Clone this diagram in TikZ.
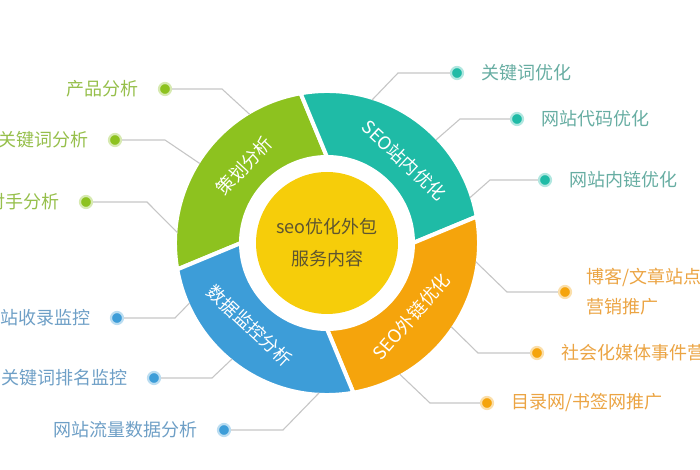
\documentclass[tikz,border=0pt]{standalone}
\usepackage{fontspec}
\setmainfont{Noto Sans CJK SC}
\usepackage{xcolor}
\definecolor{verdeSEO}{HTML}{8DC21F}
\definecolor{tealSEO}{HTML}{1FBBA6}
\definecolor{naranjaSEO}{HTML}{F5A40C}
\definecolor{azulSEO}{HTML}{3D9DD8}
\definecolor{amarilloSEO}{HTML}{F6CD0A}
\definecolor{txtCentro}{HTML}{5E5530}
\definecolor{txtVerde}{HTML}{96BF4B}
\definecolor{txtTeal}{HTML}{67ADA2}
\definecolor{txtAzul}{HTML}{6E9FC6}
\definecolor{txtNaranja}{HTML}{EBA443}
\usetikzlibrary{positioning,calc}

\begin{document}
\begin{tikzpicture}[x=1pt,y=1pt,
 seg/.style={draw=white,line width=4pt,line join=round},
 segtext/.style={text=white,inner sep=0,font=\fontsize{18}{20}\selectfont},
 leafdot/.style={circle,fill=#1,draw=#1!35,line width=2.2pt,minimum size=12pt,inner sep=0},
 item/.style={inner sep=0,align=left,font=\fontsize{18}{30}\selectfont},
 lead/.style={draw=gray!45,line width=1.1pt}]
 \useasboundingbox (-327,-227) rectangle (373,243);
 % anillo de cuatro sectores
 \foreach \a/\c in {90/verdeSEO,0/tealSEO,-90/naranjaSEO,180/azulSEO}
  \filldraw[seg,fill=\c] (\a+10:152) arc[start angle=\a+10,end angle=\a+100,radius=152]
   -- (\a+90:86) arc[start angle=\a+90,end angle=\a,radius=86] -- cycle;
 \fill[amarilloSEO] (0,0) circle[radius=71];
 \node[inner sep=0,align=center,text=txtCentro,
  font=\fontsize{18}{32}\selectfont] (core) at (0,0) {seo优化外包\\服务内容};
 \node[segtext,rotate=47] (plan) at (137:113) {策划分析};
 \node[segtext,rotate=-43] (onpage) at (47:113) {SEO站内优化};
 \node[segtext,rotate=49] (offpage) at (-41:112) {SEO外链优化};
 \node[segtext,rotate=-43] (monitor) at (227:113) {数据监控分析};
 % ramas verdes
 \node[leafdot=verdeSEO] (g1) at (-162,154) {};
 \node[leafdot=verdeSEO] (g2) at (-212,103) {};
 \node[leafdot=verdeSEO] (g3) at (-241,41) {};
 \node[item,text=txtVerde,left=19pt of g1] (g1t) {产品分析};
 \node[item,text=txtVerde,left=19pt of g2] (g2t) {关键词分析};
 \node[item,text=txtVerde,left=19pt of g3] (g3t) {对手分析};
 \coordinate (g1r) at (121:150); \coordinate (g1b) at (-105,154);
 \coordinate (g2r) at (148:150); \coordinate (g2b) at (-162,103);
 \coordinate (g3r) at (176:150); \coordinate (g3b) at (-180,41);
 \draw[lead] (g1r)--(g1b)--(g1);
 \draw[lead] (g2r)--(g2b)--(g2);
 \draw[lead] (g3r)--(g3b)--(g3);
 % ramas azules
 \node[leafdot=azulSEO] (b1) at (-210,-75) {};
 \node[leafdot=azulSEO] (b2) at (-173,-135) {};
 \node[leafdot=azulSEO] (b3) at (-103,-187) {};
 \node[item,text=txtAzul,left=19pt of b1] (b1t) {站收录监控};
 \node[item,text=txtAzul,left=19pt of b2] (b2t) {关键词排名监控};
 \node[item,text=txtAzul,left=19pt of b3] (b3t) {网站流量数据分析};
 \coordinate (b1r) at (203.6:150); \coordinate (b1b) at (-152,-75);
 \coordinate (b2r) at (230.7:150); \coordinate (b2b) at (-115,-135);
 \coordinate (b3r) at (267:150); \coordinate (b3b) at (-44,-187);
 \draw[lead] (b1r)--(b1b)--(b1);
 \draw[lead] (b2r)--(b2b)--(b2);
 \draw[lead] (b3r)--(b3b)--(b3);
 % ramas teal
 \node[leafdot=tealSEO] (t1) at (130,170) {};
 \node[leafdot=tealSEO] (t2) at (190,124) {};
 \node[leafdot=tealSEO] (t3) at (218,63) {};
 \node[item,text=txtTeal,right=17pt of t1] (t1t) {关键词优化};
 \node[item,text=txtTeal,right=17pt of t2] (t2t) {网站代码优化};
 \node[item,text=txtTeal,right=17pt of t3] (t3t) {网站内链优化};
 \coordinate (t1r) at (72.5:150); \coordinate (t1b) at (71,170);
 \coordinate (t2r) at (43.4:150); \coordinate (t2b) at (133,124);
 \coordinate (t3r) at (17.6:150); \coordinate (t3b) at (163,63);
 \draw[lead] (t1r)--(t1b)--(t1);
 \draw[lead] (t2r)--(t2b)--(t2);
 \draw[lead] (t3r)--(t3b)--(t3);
 % ramas naranjas
 \node[leafdot=naranjaSEO] (o1) at (238,-49) {};
 \node[leafdot=naranjaSEO] (o2) at (210,-110) {};
 \node[leafdot=naranjaSEO] (o3) at (160,-160) {};
 \node[item,text=txtNaranja,right=14pt of o1] (o1t) {博客/文章站点\\营销推广};
 \node[item,text=txtNaranja,right=17pt of o2] (o2t) {社会化媒体事件营};
 \node[item,text=txtNaranja,right=17pt of o3] (o3t) {目录网/书签网推广};
 \coordinate (o1r) at (-7.2:150); \coordinate (o1b) at (180,-49);
 \coordinate (o2r) at (-34:150); \coordinate (o2b) at (151,-110);
 \coordinate (o3r) at (-61:150); \coordinate (o3b) at (103,-160);
 \draw[lead] (o1r)--(o1b)--(o1);
 \draw[lead] (o2r)--(o2b)--(o2);
 \draw[lead] (o3r)--(o3b)--(o3);
\end{tikzpicture}
\end{document}
